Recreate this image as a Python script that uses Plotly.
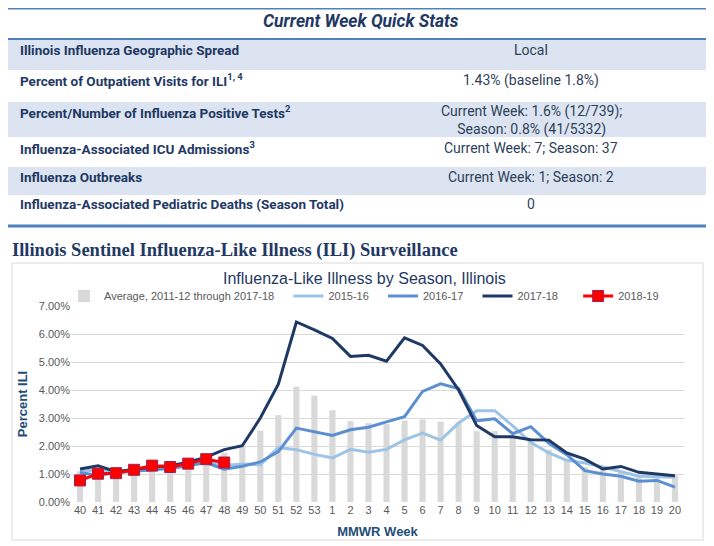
import plotly.graph_objects as go

# Quick stats table
table_title = "Current Week Quick Stats"
stat_labels = [
    "Illinois Influenza Geographic Spread",
    "Percent of Outpatient Visits for ILI<sup>1, 4</sup>",
    "Percent/Number of Influenza Positive Tests<sup>2</sup>",
    "Influenza-Associated ICU Admissions<sup>3</sup>",
    "Influenza Outbreaks",
    "Influenza-Associated Pediatric Deaths (Season Total)",
]
stat_values = [
    "Local",
    "1.43% (baseline 1.8%)",
    "Current Week: 1.6% (12/739);<br>Season: 0.8% (41/5332)",
    "Current Week: 7; Season: 37",
    "Current Week: 1; Season: 2",
    "0",
]

heading = "Illinois Sentinel Influenza-Like Illness (ILI) Surveillance"
chart_title = "Influenza-Like Illness by Season, Illinois"

# MMWR weeks
weeks = [str(w) for w in list(range(40, 54)) + list(range(1, 21))]

avg_2011_2018 = [1.1, 1.15, 1.1, 1.2, 1.25, 1.25, 1.35, 1.5, 1.75, 2.0,
                 2.55, 3.1, 4.12, 3.8, 3.28, 2.89, 2.82, 2.78, 2.91, 2.95,
                 2.87, 2.85, 2.53, 2.53, 2.3, 2.15, 1.87, 1.53, 1.25, 1.2,
                 1.1, 0.95, 0.85, 0.95]
s2015_16 = [1.1, 1.15, 1.1, 1.15, 1.2, 1.2, 1.3, 1.45, 1.3, 1.36,
            1.33, 1.94, 1.87, 1.7, 1.57, 1.88, 1.78, 1.88, 2.22, 2.46,
            2.21, 2.82, 3.26, 3.26, 2.72, 2.13, 1.75, 1.49, 1.39, 1.25,
            1.09, 0.92, 0.9, 0.88]
s2016_17 = [1.05, 0.95, 1.05, 1.1, 1.15, 1.2, 1.3, 1.4, 1.17, 1.28,
            1.43, 1.8, 2.64, 2.52, 2.38, 2.58, 2.67, 2.86, 3.05, 3.95,
            4.22, 4.05, 2.9, 2.97, 2.44, 2.69, 2.1, 1.69, 1.12, 1.0,
            0.92, 0.74, 0.77, 0.53]
s2017_18 = [1.18, 1.29, 1.08, 1.17, 1.25, 1.3, 1.42, 1.6, 1.87, 2.01,
            3.0, 4.21, 6.43, 6.15, 5.84, 5.2, 5.24, 5.03, 5.86, 5.59,
            4.93, 4.0, 2.73, 2.33, 2.33, 2.22, 2.21, 1.75, 1.53, 1.18,
            1.27, 1.06, 1.0, 0.94]
s2018_19 = [0.77, 1.01, 1.03, 1.15, 1.3, 1.25, 1.37, 1.53, 1.41]

# page body has an 8px margin, so the figure is 8px smaller than the window
OFF = 8
W, H = 714 - OFF, 546 - OFF
NB = "\u00a0"  # padding between legend entries


def px(x):
    return (x - OFF) / W


def py(y):
    return 1 - (y - OFF) / H


def note(text, x, y, size, color, family="Liberation Sans Narrow, Roboto",
         xanchor="left"):
    return dict(text=text, xref="paper", yref="paper", x=px(x), y=py(y),
                xanchor=xanchor, yanchor="middle", showarrow=False,
                font=dict(family=family, size=size, color=color))


fig = go.Figure()

fig.add_trace(go.Bar(x=weeks, y=avg_2011_2018,
                     name="Average, 2011-12 through 2017-18" + NB * 3,
                     marker_color="#d9d9d9", marker_line_width=0))
fig.add_trace(go.Scatter(x=weeks, y=s2015_16, name="2015-16" + NB * 3, mode="lines",
                         line=dict(color="#9dc3e6", width=3)))
fig.add_trace(go.Scatter(x=weeks, y=s2016_17, name="2016-17" + NB * 3, mode="lines",
                         line=dict(color="#5b8fd2", width=3)))
fig.add_trace(go.Scatter(x=weeks, y=s2017_18, name="2017-18" + NB * 5, mode="lines",
                         line=dict(color="#1f3864", width=3)))
fig.add_trace(go.Scatter(x=weeks[:len(s2018_19)], y=s2018_19, name="2018-19",
                         mode="lines+markers",
                         line=dict(color="#ff0000", width=3),
                         marker=dict(symbol="square", size=11, color="#ff0000",
                                     line=dict(color="#a02050", width=1))))

shapes = []
annotations = []

# Table bands and rules
bands = [(39, 70, True), (70, 102, False), (102, 137, True),
         (137, 167, False), (167, 195, True), (195, 225, False)]
label_y = [50, 80, 112, 148, 177, 204]
value_y = [50, 80, 120, 148, 177, 204]
for (y0, y1, shaded), label, value, ly, vy in zip(bands, stat_labels, stat_values,
                                                  label_y, value_y):
    if shaded:
        shapes.append(dict(type="rect", xref="paper", yref="paper",
                           x0=px(8), x1=px(706), y0=py(y1), y1=py(y0),
                           fillcolor="#dbe4f0", line_width=0, layer="below"))
    annotations.append(note(f"<b>{label}</b>", 18, ly, 13.5, "#1f3864"))
    annotations.append(note(value, 531, vy, 14, "#2f3f5a", xanchor="center"))

for y, w in [(8, 3), (39, 2), (226, 3)]:
    shapes.append(dict(type="line", xref="paper", yref="paper", x0=px(8), x1=px(706),
                       y0=py(y), y1=py(y), line=dict(color="#4f81bd", width=w)))

annotations.append(note(f"<b><i>{table_title}</i></b>", 361, 21, 17.5, "#1f3864",
                        xanchor="center"))
annotations.append(note(f"<b>{heading}</b>", 10, 251, 18.5, "#1f3864",
                        family="Liberation Serif"))

# Chart frame
shapes.append(dict(type="rect", xref="paper", yref="paper", x0=px(12), x1=px(703),
                   y0=py(540), y1=py(263), line=dict(color="#d9d9d9", width=1),
                   layer="below"))
annotations.append(note(chart_title, 364, 278, 16, "#1f3864",
                        family="Liberation Sans", xanchor="center"))

fig.update_layout(
    width=W, height=H, autosize=False,
    template="none",
    margin=dict(l=0, r=0, t=0, b=0),
    paper_bgcolor="white", plot_bgcolor="white",
    bargap=0.66,
    shapes=shapes, annotations=annotations,
    font=dict(family="Liberation Sans", size=11, color="#595959"),
    legend=dict(orientation="h", x=px(64), y=py(296), xanchor="left", yanchor="middle",
                font=dict(size=11, color="#595959"), bgcolor="rgba(0,0,0,0)",
                itemwidth=30, tracegroupgap=0),
    xaxis=dict(domain=[px(71), px(684)], type="category", range=[-0.5, 33.5],
               showgrid=False, showline=False, ticks="", tickangle=0,
               tickfont=dict(size=11, color="#595959"),
               title=dict(text="<b>MMWR Week</b>", standoff=11,
                          font=dict(size=13, color="#1f4e79")),
               automargin=False),
    yaxis=dict(domain=[py(502), py(306)], range=[0, 7], dtick=1, tickformat=".2f",
               ticksuffix="%", showgrid=True, gridcolor="#d9d9d9", gridwidth=1,
               zeroline=False, showline=False, ticks="",
               tickfont=dict(size=11, color="#595959"),
               title=dict(text="<b>Percent ILI</b>", standoff=8,
                          font=dict(size=13, color="#1f4e79")),
               automargin=False),
)

fig.write_html("out.html")
